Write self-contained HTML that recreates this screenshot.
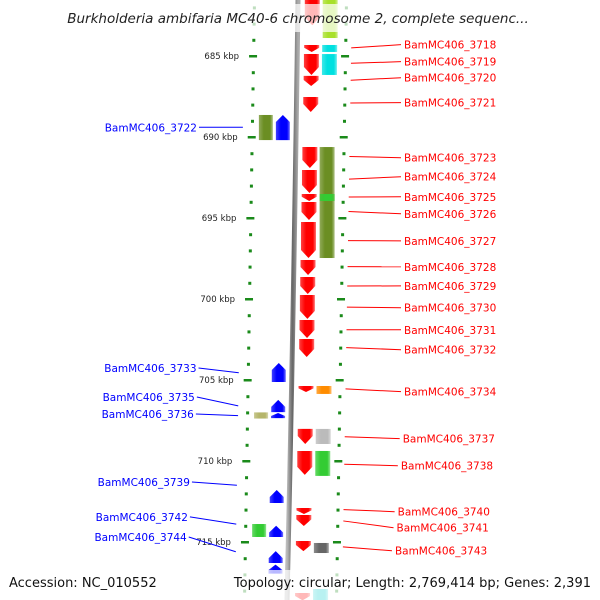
<!DOCTYPE html>
<html><head><meta charset="utf-8"><style>
html,body{margin:0;padding:0;background:#fff;}
svg{display:block;font-family:"DejaVu Sans","Liberation Sans",sans-serif;}
</style></head><body>
<svg id="chart" width="600" height="600" viewBox="0 0 600 600">
<defs>
<linearGradient id="bb" x1="0" x2="1"><stop offset="0" stop-color="#bbb"/><stop offset="0.5" stop-color="#666"/><stop offset="1" stop-color="#aaa"/></linearGradient>
</defs>
<g id="axis"></g>
<path d="M298,0 Q294,300 287,600" stroke="url(#bb)" stroke-width="5" fill="none"/>
<g id="genes"></g>
<g id="labels"></g>
<rect x="0" y="4" width="600" height="28" fill="#fff" opacity="0.72"/>
<text x="298" y="23" text-anchor="middle" font-style="italic" font-size="13.5" fill="#222">Burkholderia ambifaria MC40-6 chromosome 2, complete sequenc...</text>
<rect x="0" y="570" width="600" height="30" fill="#fff" opacity="0.72"/>
<text x="9" y="587" font-size="13" fill="#111">Accession: NC_010552</text>
<text x="591" y="587" text-anchor="end" font-size="13" fill="#111">Topology: circular; Length: 2,769,414 bp; Genes: 2,391</text>
</svg>
<script>
const majorTicks=[685,690,695,700,705,710,715];
const tickLabels=["685 kbp","690 kbp","695 kbp","700 kbp","705 kbp","710 kbp","715 kbp"];
const minorStart=681, minorEnd=718;
// reverse strand lane 1 (red arrows): [start kbp, end kbp]
const revStart=[681.5,684.32,684.88,686.23,687.53,690.62,692.04,693.52,694.01,695.25,697.59,698.64,699.75,701.30,702.47,705.37,708.02,709.38,712.90,713.33,714.94,718.15];
const revEnd  =[683.1,684.75,686.17,686.85,688.46,691.91,693.46,693.95,695.12,697.47,698.52,699.69,701.23,702.41,703.58,705.74,708.95,710.86,713.27,714.01,715.56,718.6];
// reverse strand lane 2 features
const rev2Start=[681.5,684.32,684.88,690.62,693.52,705.37,708.02,709.38,715.06,717.9];
const rev2End  =[683.89,684.75,686.17,697.47,693.95,705.86,708.95,710.92,715.68,718.6];
const rev2Color=["#a8e02a","#00e0e0","#00e0e0","#6b8e23","#33cc33","#ff8c00","#bbbbbb","#33cc33","#666666","#00cccc"];
// forward strand blue arrows
const fwdStart=[688.64,703.95,706.23,707.04,711.79,714.0,715.56,716.4];
const fwdEnd  =[690.19,705.12,706.98,707.35,712.59,714.69,716.30,716.95];
// forward lane 2 features
const fwd2Start=[688.64,707.0,713.89];
const fwd2End  =[690.19,707.38,714.69];
const fwd2Color=["#6b8e23","#b5b56a","#33cc33"];
// labels
const rightNames=["BamMC406_3718","BamMC406_3719","BamMC406_3720","BamMC406_3721","BamMC406_3723","BamMC406_3724","BamMC406_3725","BamMC406_3726","BamMC406_3727","BamMC406_3728","BamMC406_3729","BamMC406_3730","BamMC406_3731","BamMC406_3732","BamMC406_3734","BamMC406_3737","BamMC406_3738","BamMC406_3740","BamMC406_3741","BamMC406_3743"];
const rightLabelKbp=[684.30,685.35,686.34,687.88,691.28,692.45,693.69,694.74,696.41,698.01,699.19,700.54,701.90,703.13,705.72,708.62,710.29,713.13,714.12,715.54];
const rightTargetKbp=[684.50,685.45,686.50,687.90,691.20,692.60,693.70,694.60,696.40,698.00,699.20,700.50,701.90,703.00,705.55,708.50,710.20,713.00,713.70,715.30];
const leftNames=["BamMC406_3722","BamMC406_3733","BamMC406_3735","BamMC406_3736","BamMC406_3739","BamMC406_3742","BamMC406_3744"];
const leftLabelKbp=[689.40,704.26,706.05,707.10,711.30,713.45,714.69];
const leftTargetKbp=[689.40,704.55,706.60,707.20,711.50,713.90,715.60];

const NS="http://www.w3.org/2000/svg";
function Y(k){return 56+(k-685)*16.2;}
function shift(y){return -10*y/600;}
function mk(tag,attrs,parent){const e=document.createElementNS(NS,tag);for(const k in attrs)e.setAttribute(k,attrs[k]);parent.appendChild(e);return e;}
const axis=document.getElementById('axis'),genes=document.getElementById('genes'),labels=document.getElementById('labels');
const defs=document.querySelector('defs');
function grad(color,id){if(document.getElementById(id))return;const g=mk('linearGradient',{id:id,x1:0,x2:1},defs);
mk('stop',{offset:0,'stop-color':color,'stop-opacity':0.75},g);mk('stop',{offset:0.35,'stop-color':color},g);mk('stop',{offset:0.8,'stop-color':color},g);mk('stop',{offset:1,'stop-color':color,'stop-opacity':0.55},g);}
// ticks
for(let k=minorStart;k<=minorEnd;k++){
  const y=Y(k),major=majorTicks.includes(k);
  const lx=255+shift(y)-1, rx=345+shift(y)+1;
  const l=mk('rect',{x:major?lx-4:lx-1,y:y-1,width:major?8:3,height:major?2.5:3,fill:'#1a8a1a'},axis);
  
  
  const r=mk('rect',{x:major?rx-4:rx-1,y:y-1,width:major?8:3,height:major?2.5:3,fill:'#1a8a1a'},axis);
  
  
}
majorTicks.forEach((k,i)=>{const y=Y(k);
  const t=mk('text',{x:240+shift(y),y:y+3,'text-anchor':'end','font-size':8.5,fill:'#222'},axis);t.textContent=tickLabels[i];
  
  });
// red reverse arrows
revStart.forEach((s,i)=>{const y0=Y(s),y1=Y(revEnd[i]);const h=y1-y0;const x=305+shift((y0+y1)/2),w=15;
  const head=Math.min(8,h*0.6);grad('#ff0000','g-red');
  const p=mk('path',{d:`M${x},${y0}H${x+w}V${y1-head}L${x+w/2},${y1}L${x},${y1-head}Z`,fill:'url(#g-red)'},genes);
  
  });
rev2Start.forEach((s,i)=>{const y0=Y(s),y1=Y(rev2End[i]);const x=323+shift((y0+y1)/2);const id='g2r'+i;grad(rev2Color[i],id);
  const r=mk('rect',{x:x,y:y0,width:15,height:y1-y0,fill:`url(#${id})`},genes);
  
  });
fwdStart.forEach((s,i)=>{const y0=Y(s),y1=Y(fwdEnd[i]);const h=y1-y0;const x=278+shift((y0+y1)/2),w=14;
  const head=Math.min(7,h*0.6);grad('#0000ff','g-blue');
  const p=mk('path',{d:`M${x},${y1}H${x+w}V${y0+head}L${x+w/2},${y0}L${x},${y0+head}Z`,fill:'url(#g-blue)'},genes);
  
  });
fwd2Start.forEach((s,i)=>{const y0=Y(s),y1=Y(fwd2End[i]);const x=261+shift((y0+y1)/2);const id='g2f'+i;grad(fwd2Color[i],id);
  const r=mk('rect',{x:x,y:y0,width:14,height:y1-y0,fill:`url(#${id})`},genes);
  
  });
// labels
rightNames.forEach((n,i)=>{const ly=Y(rightLabelKbp[i]),ty=Y(rightTargetKbp[i]);const lx=404-9*Math.max(0,(ly-420)/130);
  const ln=mk('line',{x1:352+shift(ty),y1:ty,x2:lx-3,y2:ly,stroke:'#ff0000','stroke-width':1},labels);
  
  
  const t=mk('text',{x:lx,y:ly+4,'font-size':10.5,fill:'#ff0000'},labels);t.textContent=n;
  
  });
leftNames.forEach((n,i)=>{const ly=Y(leftLabelKbp[i]),ty=Y(leftTargetKbp[i]);const lx=198-11*Math.max(0,(ly-360)/190);
  const ln=mk('line',{x1:lx+1,y1:ly,x2:245+shift(ty),y2:ty,stroke:'#0000ff','stroke-width':1},labels);
  
  
  const t=mk('text',{x:lx-1,y:ly+4,'font-size':10.5,fill:'#0000ff','text-anchor':'end'},labels);t.textContent=n;
  
  });
</script>
</body></html>
